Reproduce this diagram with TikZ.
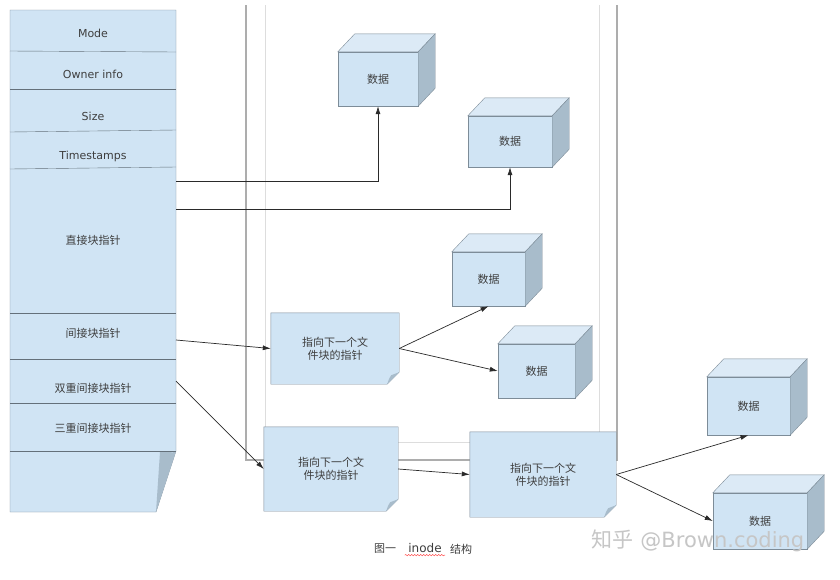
\documentclass[tikz,border=0pt]{standalone}
\usepackage{fontspec}
\setmainfont{DejaVu Sans}
\newfontfamily\cjk{Noto Sans CJK SC}
\usetikzlibrary{arrows.meta,backgrounds,calc,decorations.pathmorphing}

\definecolor{boxblue}{HTML}{D0E4F4}
\definecolor{boxtop}{HTML}{DCEAF6}
\definecolor{boxside}{HTML}{A8BCCB}
\definecolor{boxline}{HTML}{7D8C98}
\definecolor{labelgray}{HTML}{3E3E3E}
\definecolor{linkgray}{HTML}{2A2A2A}
\definecolor{framegray}{HTML}{ADADAD}
\definecolor{framelight}{HTML}{DDDDDD}

\begin{document}
\begin{tikzpicture}[x=1pt,y=-1pt,>={Latex[length=8pt,width=5pt]},
		fieldtext/.style={font=\fontsize{11}{13}\selectfont,text=labelgray},
		cnfield/.style={font=\cjk\fontsize{11}{13}\selectfont,text=labelgray},
		datacube/.style={draw=boxline,fill=boxblue,inner sep=0pt,font=\cjk\fontsize{11}{13}\selectfont,text=labelgray},
		notebox/.style={inner sep=0pt,align=center,font=\cjk\fontsize{11}{13}\selectfont,text=labelgray},
		link/.style={->,draw=linkgray,line width=0.7pt}]
		\useasboundingbox (0,0) rectangle (840,579);

		% white page and the window frame behind everything
		\begin{scope}[on background layer]
			\fill[white] (0,0) rectangle (840,579);
			\draw[framegray,line width=2.5pt] (246,5) -- (246,460) -- (617,460) -- (617,5);
			\draw[framelight,line width=1pt] (265,5) -- (265,442) -- (599,442) -- (599,5);
		\end{scope}

		% draw the inode column
		\filldraw[fill=boxblue,draw=boxline] (10,10) -- (176,10) -- (176,451) -- (156,512) -- (10,512) -- cycle;
		\fill[boxside] (160,452) .. controls (166,449) and (172,455) .. (176,451) -- (156,512) -- cycle;
		\coordinate (rim) at (176,10);

		% row dividers
		\foreach \l/\r in {51/52,89/89,132/130,169/167,313/313,359/359,403/403,451/451}
			\draw[boxline!80!black] (10,\l) -- (176,\r);

		% field names
		\foreach \name/\y/\txt in {mode/33/Mode,owner/74/Owner info,size/116/Size,stamps/156/Timestamps}
			\node[fieldtext] (\name) at (93,\y) {\txt};
		\foreach \name/\y/\txt in {direct/240/直接块指针,single/333/间接块指针,double/388/双重间接块指针,triple/428/三重间接块指针}
			\node[cnfield] (\name) at (93,\y) {\txt};

		% data blocks drawn as cubes
		\foreach \name/\x/\y/\w/\h in {c1/378/79/80/54,c2/510/141.5/84/51,c3/488.5/279/73/54,c4/536.5/371/77/54,c5/748.5/406/83/58,c6/760/521/94/56}
		{
			\node[datacube,minimum width=\w,minimum height=\h] (\name) at (\x,\y) {数据};
			\filldraw[fill=boxtop,draw=boxline] (\name.north west) -- ([shift={(17pt,18pt)}]\name.north west) -- ([shift={(17pt,18pt)}]\name.north east) -- (\name.north east) -- cycle;
			\filldraw[fill=boxside,draw=boxline] (\name.north east) -- ([shift={(17pt,18pt)}]\name.north east) -- ([shift={(17pt,18pt)}]\name.south east) -- (\name.south east) -- cycle;
		}

		% pointer notes with a folded corner
		\foreach \name/\x/\y/\w/\h in {n1/335/348.5/128/71,n2/331/469/134/84,n3/543/474.5/146/85}
		{
			\node[notebox,minimum width=\w,minimum height=\h] (\name) at (\x,\y) {指向下一个文\\件块的指针};
			\begin{scope}[on background layer]
				\filldraw[fill=boxblue,draw=boxline] (\name.north west) -- (\name.north east) -- ([yshift=12pt]\name.south east) -- ([xshift=-12pt]\name.south east) -- (\name.south west) -- cycle;
				\fill[boxside] ([yshift=12pt]\name.south east) -- ([xshift=-12pt]\name.south east) .. controls ([shift={(-10pt,6pt)}]\name.south east) .. ([shift={(-8pt,9pt)}]\name.south east) -- cycle;
			\end{scope}
		}

		% connectors
		\draw[link] ($(direct -| rim)+(0,59pt)$) -| (c1.south);
		\draw[link] ($(direct -| rim)+(0,31pt)$) -| (c2.south);
		\draw[link] ($(single -| rim)+(0,-7pt)$) -- (n1.west);
		\draw[link] ($(double -| rim)+(0,7pt)$) -- (n2.west);
		\draw[link] (n1.east) -- (c3.south);
		\draw[link] (n1.east) -- (c4.west);
		\draw[link] (n2.east) -- (n3.west);
		\draw[link] (n3.east) -- (c5.south);
		\draw[link] (n3.east) -- (c6.west);

		% caption
		\node[font=\cjk\fontsize{11}{13}\selectfont,text=labelgray] (figno) at (385,549) {图一};
		\node[font=\fontsize{12}{14}\selectfont,text=labelgray] (word) at (425,548) {inode};
		\node[font=\cjk\fontsize{11}{13}\selectfont,text=labelgray] (title) at (461,549) {结构};
		\draw[red!80,decorate,decoration={snake,amplitude=0.7pt,segment length=3pt}] ([yshift=1pt]word.south west) -- ([yshift=1pt]word.south east);

		% watermark
		\node[text=gray!45,font=\fontsize{21}{24}\selectfont] (mark) at (698,541) {{\cjk 知乎} @Brown.coding};
\end{tikzpicture}
\end{document}
